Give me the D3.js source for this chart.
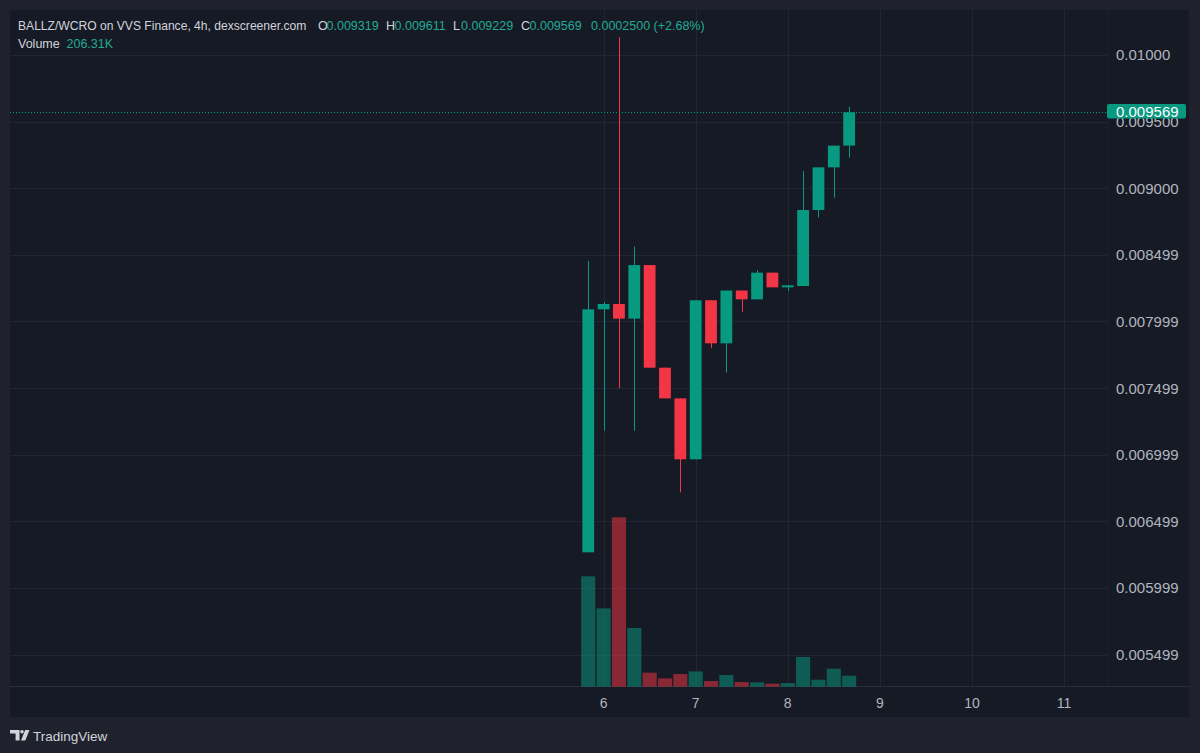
<!DOCTYPE html>
<html>
<head>
<meta charset="utf-8">
<script src="https://cdn.jsdelivr.net/npm/d3@7"></script>
<style>
  html, body { margin: 0; padding: 0; background: #1f222c; }
  svg { display: block; font-family: "Liberation Sans", Arial, sans-serif; }
</style>
</head>
<body>
<svg id="chart" width="1200" height="753"></svg>
<script>
// 4h candles, BALLZ/WCRO
let times = ["2023-05-05T20:00", "2023-05-06T00:00", "2023-05-06T04:00", "2023-05-06T08:00",
    "2023-05-06T12:00", "2023-05-06T16:00", "2023-05-06T20:00", "2023-05-07T00:00",
    "2023-05-07T04:00", "2023-05-07T08:00", "2023-05-07T12:00", "2023-05-07T16:00",
    "2023-05-07T20:00", "2023-05-08T00:00", "2023-05-08T04:00", "2023-05-08T08:00",
    "2023-05-08T12:00", "2023-05-08T16:00"];
let opens  = [0.006268, 0.008091, 0.008131, 0.008021, 0.008423, 0.007653, 0.007423, 0.006966, 0.008159,
    0.007836, 0.008232, 0.008166, 0.008366, 0.008256, 0.008266, 0.008836, 0.009156, 0.009319];
let highs  = [0.008453, 0.008146, 0.010132, 0.008561, 0.008423, 0.007653, 0.007423, 0.008159, 0.008159,
    0.008232, 0.008232, 0.008386, 0.008366, 0.008271, 0.009129, 0.009156, 0.009319, 0.009611];
let lows   = [0.006268, 0.007180, 0.007499, 0.007180, 0.007653, 0.007423, 0.006718, 0.006966, 0.007799,
    0.007617, 0.008073, 0.008166, 0.008256, 0.008228, 0.008266, 0.008781, 0.008928, 0.009229];
let closes = [0.008091, 0.008131, 0.008021, 0.008423, 0.007653, 0.007423, 0.006966, 0.008159, 0.007836,
    0.008232, 0.008166, 0.008366, 0.008256, 0.008271, 0.008836, 0.009156, 0.009319, 0.009569];
// volume in thousands
let volumes = [2071, 1470, 3177, 1101, 263, 156, 238, 287, 107, 219, 88, 81, 56, 69, 557, 131, 338, 206.31];

let priceTicks = [0.01, 0.0095, 0.009, 0.0085, 0.008, 0.0075, 0.007, 0.0065, 0.006, 0.0055];
let priceLabels = ["0.01000", "0.009500", "0.009000", "0.008499", "0.007999", "0.007499",
    "0.006999", "0.006499", "0.005999", "0.005499"];
let dayTicks = ["2023-05-06", "2023-05-07", "2023-05-08", "2023-05-09", "2023-05-10", "2023-05-11"];

let lastPrice = 0.009569;
let header = {pair: "BALLZ/WCRO on VVS Finance, 4h, dexscreener.com",
    o: "0.009319", h: "0.009611", l: "0.009229", c: "0.009569", chg: "0.0002500 (+2.68%)", vol: "206.31K"};

let green = "#089981";
let red = "#f23645";
let pane = {left: 10, right: 1107, top: 10, bottom: 687};

let parse = d3.utcParse("%Y-%m-%dT%H:%M");
let parseDay = d3.utcParse("%Y-%m-%d");
let data = times.map((t, i) => ({
    date: parse(t), o: opens[i], h: highs[i], l: lows[i], c: closes[i], v: volumes[i]
}));

let svg = d3.select('#chart');

// frame
svg.append('rect').attr('width', 1200).attr('height', 753).attr('fill', '#1f222c');
svg.append('rect')
    .attr('x', 10).attr('y', 10).attr('width', 1179).attr('height', 707)
    .attr('fill', '#161a25');

// scales
let xScale = d3.scaleUtc()
    .domain([parseDay(dayTicks[0]), parseDay(dayTicks[5])])
    .range([603.6, 1064]);
let yScale = d3.scaleLinear().domain([0.01, 0.0055]).range([54.85, 654.7]);
let vScale = d3.scaleLinear().domain([0, 3200]).range([686.7, 686.7 - 170.6]);
let step = xScale(parse(times[1])) - xScale(parse(times[0]));

// grid
let grid = svg.append('g').attr('class', 'grid');
grid.selectAll('line.h')
    .data(priceTicks)
    .enter()
    .append('line')
    .attr('x1', pane.left).attr('x2', pane.right)
    .attr('y1', d => Math.round(yScale(d)) + 0.5)
    .attr('y2', d => Math.round(yScale(d)) + 0.5)
    .attr('stroke', '#222632');
grid.selectAll('line.v')
    .data(dayTicks)
    .enter()
    .append('line')
    .attr('x1', d => Math.round(xScale(parseDay(d))) + 0.5)
    .attr('x2', d => Math.round(xScale(parseDay(d))) + 0.5)
    .attr('y1', pane.top).attr('y2', pane.bottom)
    .attr('stroke', '#222632');

// pane separators
svg.append('line')
    .attr('x1', 10).attr('x2', 1189).attr('y1', 686.5).attr('y2', 686.5)
    .attr('stroke', '#2a2e39');
svg.append('line')
    .attr('x1', 1107.5).attr('x2', 1107.5).attr('y1', 10).attr('y2', 686)
    .attr('stroke', '#1b1f2a');

svg.append('clipPath').attr('id', 'clip')
    .append('rect')
    .attr('x', pane.left).attr('y', pane.top)
    .attr('width', pane.right - pane.left).attr('height', pane.bottom - pane.top);

let plot = svg.append('g').attr('clip-path', 'url(#clip)');

// volume
plot.append('g')
    .selectAll('rect')
    .data(data)
    .enter()
    .append('rect')
    .attr('x', d => xScale(d.date) - step / 2 + 0.6)
    .attr('width', step - 1.2)
    .attr('y', d => vScale(d.v))
    .attr('height', d => vScale(0) - vScale(d.v))
    .attr('fill', d => d.c >= d.o ? green : red)
    .attr('fill-opacity', 0.52);

// candles
let candles = plot.append('g')
    .selectAll('g')
    .data(data)
    .enter()
    .append('g')
    .attr('fill', d => d.c >= d.o ? green : red)
    .attr('stroke', d => d.c >= d.o ? green : red);
candles.append('line')
    .attr('x1', d => Math.round(xScale(d.date)) + 0.5)
    .attr('x2', d => Math.round(xScale(d.date)) + 0.5)
    .attr('y1', d => yScale(d.h))
    .attr('y2', d => yScale(d.l))
    .attr('stroke-width', 1);
candles.append('rect')
    .attr('stroke', 'none')
    .attr('x', d => xScale(d.date) - 5.9)
    .attr('width', 11.8)
    .attr('y', d => yScale(Math.max(d.o, d.c)))
    .attr('height', d => Math.max(2, Math.abs(yScale(d.o) - yScale(d.c))));

// last price line
plot.append('line')
    .attr('x1', pane.left).attr('x2', pane.right)
    .attr('y1', Math.round(yScale(lastPrice)) + 0.5)
    .attr('y2', Math.round(yScale(lastPrice)) + 0.5)
    .attr('stroke', green)
    .attr('stroke-dasharray', '1,2');

// price axis labels (0.009500 sits mostly under the badge, as in the source)
svg.append('g')
    .selectAll('text')
    .data(priceTicks)
    .enter()
    .append('text')
    .attr('x', 1116)
    .attr('y', d => yScale(d))
    .attr('dy', '0.36em')
    .attr('font-size', 15)
    .attr('fill', '#b2b5be')
    .text((d, i) => priceLabels[i]);

// last price badge
svg.append('rect')
    .attr('x', 1107).attr('y', yScale(lastPrice) - 8.3)
    .attr('width', 79).attr('height', 14.5)
    .attr('rx', 2)
    .attr('fill', green);
svg.append('text')
    .attr('x', 1116).attr('y', yScale(lastPrice) - 1)
    .attr('dy', '0.36em')
    .attr('font-size', 15)
    .attr('fill', '#ffffff')
    .text(lastPrice.toFixed(6));

// time axis labels
svg.append('g')
    .selectAll('text')
    .data(dayTicks)
    .enter()
    .append('text')
    .attr('x', d => xScale(parseDay(d)))
    .attr('y', 703)
    .attr('dy', '0.36em')
    .attr('text-anchor', 'middle')
    .attr('font-size', 14)
    .attr('fill', '#b2b5be')
    .text(d => d3.utcFormat('%-d')(parseDay(d)));

// legend header
let hd = svg.append('g').attr('font-size', 12.5);
hd.append('text').attr('x', 18).attr('y', 29.5).attr('font-size', 12.1)
    .attr('fill', '#d1d4dc').text(header.pair);
let parts = [
    [318, 'O', '#d1d4dc'], [326.5, header.o, '#22ab94'],
    [386, 'H', '#d1d4dc'], [394.5, header.h, '#22ab94'],
    [453, 'L', '#d1d4dc'], [461, header.l, '#22ab94'],
    [521, 'C', '#d1d4dc'], [529.5, header.c, '#22ab94'],
    [591, header.chg, '#22ab94']
];
hd.selectAll('text.p')
    .data(parts)
    .enter()
    .append('text')
    .attr('x', d => d[0]).attr('y', 29.5)
    .attr('fill', d => d[2])
    .text(d => d[1]);
hd.append('text').attr('x', 18).attr('y', 48).attr('fill', '#d1d4dc').text('Volume');
hd.append('text').attr('x', 66.5).attr('y', 48).attr('fill', '#22ab94').text(header.vol);

// TradingView mark
let logo = svg.append('g').attr('fill', '#d1d4dc');
logo.append('path').attr('d', 'M10,730 H19.5 V740.5 H15.6 V733.6 H10 Z');
logo.append('circle').attr('cx', 22).attr('cy', 731.8).attr('r', 1.8);
logo.append('path').attr('d', 'M25.2,730 H29.5 L25.3,740.5 H21 Z');
svg.append('text')
    .attr('x', 33).attr('y', 740.5)
    .attr('font-size', 13.5)
    .attr('fill', '#d1d4dc')
    .text('TradingView');
</script>
</body>
</html>
